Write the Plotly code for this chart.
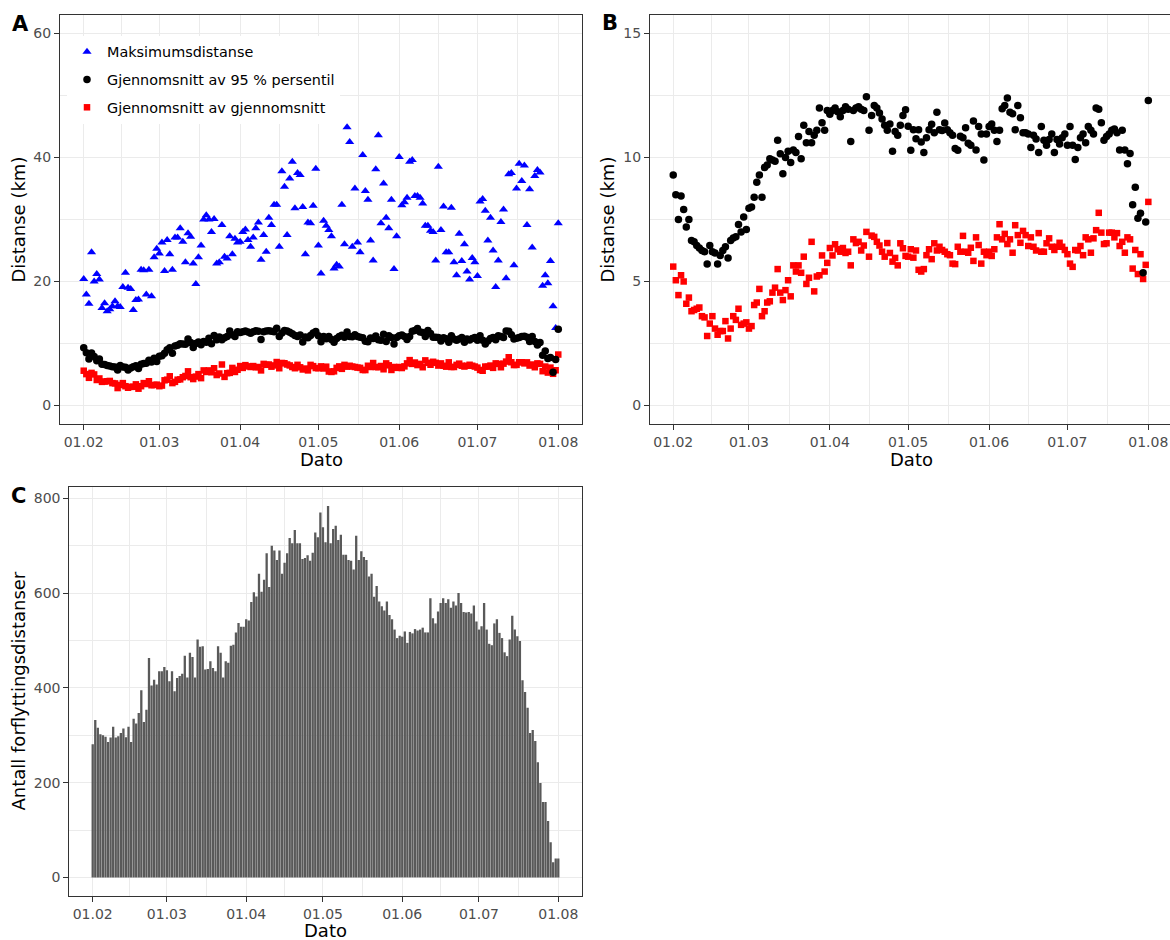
import pandas as pd
import plotly.graph_objects as go

# Daily values, 1 Feb 2020 - 1 Aug 2020
dates = pd.date_range("2020-02-01", "2020-08-01", freq="D")

maks_distanse = [
    20.4, 17.9, 16.4, 24.7, 20.0, 21.2, 20.3, 15.7, 16.5, 15.2,
    15.5, 16.0, 16.8, 16.0, 15.9, 19.1, 21.4, 19.0, 18.8, 15.4,
    17.0, 17.1, 21.9, 21.8, 17.9, 21.9, 17.6, 23.9, 25.3, 24.5,
    26.3, 21.7, 26.7, 24.4, 21.9, 27.1, 27.1, 28.6, 26.4, 23.1,
    27.8, 27.2, 22.9, 19.6, 23.9, 25.8, 30.0, 30.7, 30.0, 28.0,
    30.1, 22.9, 23.1, 29.1, 24.0, 23.7, 27.3, 24.4, 26.9, 26.3,
    26.4, 28.0, 28.4, 26.7, 25.6, 27.1, 28.6, 29.5, 23.5, 27.5,
    24.8, 30.3, 29.1, 32.4, 32.4, 25.6, 37.8, 35.3, 27.5, 36.6,
    39.3, 31.8, 37.5, 37.2, 32.0, 24.4, 29.5, 29.4, 32.2, 38.2,
    25.8, 21.3, 29.8, 29.0, 28.3, 27.3, 22.1, 22.7, 22.4, 32.4,
    26.0, 44.9, 42.5, 25.6, 35.0, 26.3, 24.7, 40.4, 34.6, 33.2,
    26.6, 23.4, 38.1, 43.6, 29.4, 35.8, 30.3, 28.6, 33.2, 22.0,
    27.3, 40.1, 32.3, 32.8, 33.5, 39.3, 39.6, 33.8, 33.8, 33.5,
    32.6, 29.0, 29.0, 28.2, 28.0, 23.4, 38.5, 28.3, 32.1, 24.7,
    24.7, 31.9, 23.1, 21.0, 27.7, 23.3, 26.0, 21.6, 20.3, 23.8,
    23.1, 20.9, 32.9, 33.3, 31.4, 26.6, 30.3, 25.0, 19.1, 23.4,
    29.6, 31.6, 20.5, 37.3, 37.5, 22.6, 35.0, 39.0, 36.2, 38.7,
    29.1, 34.9, 25.5, 37.0, 38.0, 37.6, 19.3, 21.0, 19.7, 23.3,
    16.0, 12.5, 29.4,
]

snitt_p95 = [
    9.3, 8.5, 7.5, 8.45, 7.9, 7.2, 7.5, 6.65, 6.6, 6.45,
    6.35, 6.25, 6.2, 5.7, 6.45, 6.2, 6.15, 5.7, 6.05, 6.25,
    6.4, 5.95, 6.65, 6.75, 6.8, 7.3, 7.0, 7.6, 7.1, 7.95,
    8.0, 8.4, 9.0, 9.3, 8.4, 9.6, 9.7, 9.95, 9.9, 9.85,
    10.7, 10.15, 9.35, 10.0, 10.25, 9.8, 10.3, 10.2, 10.85, 9.95,
    11.3, 10.6, 11.05, 10.6, 10.9, 11.1, 12.0, 11.4, 11.1, 11.9,
    11.75, 11.9, 12.0, 11.85, 11.65, 11.9, 12.05, 11.95, 10.65, 11.9,
    12.0, 12.05, 11.95, 11.9, 12.45, 11.1, 11.7, 12.1, 12.0, 11.8,
    11.55, 11.3, 11.1, 11.35, 10.25, 11.05, 10.9, 11.3, 11.7, 11.93,
    11.26, 10.29, 11.12, 10.76, 11.12, 10.63, 10.2, 10.8, 11.12, 11.34,
    11.0, 11.83, 11.12, 11.09, 11.39, 11.12, 11.0, 10.9, 10.36, 10.29,
    10.86, 10.8, 11.2, 10.58, 10.5, 11.47, 10.3, 11.25, 10.95, 9.9,
    10.95, 11.25, 11.35, 11.1, 10.65, 11.1, 11.97, 12.1, 12.4, 11.83,
    11.77, 11.12, 12.1, 11.6, 11.0, 11.0, 10.95, 10.4, 10.9, 10.75,
    10.2, 11.25, 10.7, 10.5, 10.73, 10.95, 10.2, 10.73, 10.55, 10.8,
    10.95, 10.5, 11.25, 10.5, 9.92, 10.4, 10.8, 10.95, 10.6, 11.25,
    11.1, 10.95, 12.0, 11.95, 11.4, 10.7, 10.85, 10.95, 11.1, 11.15,
    11.0, 10.3, 11.1, 10.3, 9.75, 10.16, 8.1, 8.8, 7.55, 7.75,
    5.35, 7.4, 12.3,
]

snitt_snitt = [
    5.6, 5.05, 4.45, 5.25, 5.0, 4.1, 4.35, 3.8, 3.85, 3.9,
    3.95, 3.6, 3.55, 2.8, 3.3, 3.6, 3.1, 2.85, 3.0, 3.0,
    3.4, 2.7, 3.1, 3.6, 3.45, 3.9, 3.25, 3.3, 3.35, 3.1,
    3.2, 4.05, 4.15, 4.7, 3.6, 3.8, 4.15, 4.2, 4.55, 4.75,
    5.5, 4.55, 4.25, 4.65, 5.05, 4.4, 5.65, 5.4, 5.65, 5.35,
    6.0, 4.9, 5.15, 6.6, 4.6, 5.2, 5.25, 6.05, 5.4, 5.75,
    6.35, 6.05, 6.5, 6.3, 6.2, 6.35, 6.15, 6.2, 5.65, 6.7,
    6.55, 6.6, 6.25, 6.45, 7.0, 6.0, 6.85, 6.8, 6.6, 6.45,
    6.2, 6.0, 6.55, 6.15, 5.8, 5.95, 5.65, 6.54, 6.34, 6.03,
    6.0, 6.3, 5.96, 6.25, 5.47, 5.4, 5.5, 6.06, 6.3, 5.9,
    6.54, 6.25, 6.4, 6.27, 6.2, 6.1, 6.06, 5.72, 5.7, 6.4,
    6.2, 6.84, 6.2, 6.16, 6.36, 5.83, 6.78, 6.47, 5.72, 6.2,
    6.06, 6.2, 6.03, 6.3, 6.78, 7.31, 6.7, 6.92, 6.51, 6.7,
    6.16, 7.27, 6.87, 6.56, 7.04, 6.87, 6.43, 6.78, 6.4, 6.25,
    6.95, 6.2, 6.2, 6.54, 6.74, 6.4, 6.27, 6.4, 6.56, 6.4,
    6.27, 6.1, 5.72, 5.59, 6.27, 6.25, 6.43, 6.06, 6.78, 6.7,
    6.16, 6.74, 7.07, 7.77, 6.97, 6.51, 6.54, 6.97, 6.97, 6.78,
    6.95, 6.43, 6.6, 6.16, 6.78, 6.7, 5.52, 6.27, 5.3, 6.1,
    5.1, 5.67, 8.21,
]

antall = [
    281, 332, 316, 302, 300, 297, 286, 295, 318, 295,
    298, 305, 314, 296, 318, 286, 335, 325, 347, 395,
    328, 354, 463, 405, 417, 407, 435, 435, 444, 437,
    414, 435, 393, 421, 425, 430, 468, 422, 474, 465,
    422, 502, 487, 488, 439, 440, 456, 442, 435, 488,
    474, 422, 456, 453, 489, 491, 517, 537, 529, 529,
    545, 542, 581, 602, 593, 641, 603, 628, 684, 613,
    700, 690, 670, 690, 641, 664, 684, 716, 705, 733,
    705, 705, 672, 674, 680, 668, 685, 728, 718, 770,
    739, 707, 784, 705, 735, 742, 712, 723, 681, 681,
    670, 668, 650, 721, 670, 688, 676, 670, 635, 641,
    592, 615, 582, 572, 563, 582, 554, 545, 523, 505,
    510, 508, 519, 495, 518, 515, 524, 521, 523, 527,
    517, 517, 589, 547, 536, 561, 579, 589, 579, 587,
    569, 582, 574, 600, 579, 560, 559, 560, 557, 574,
    540, 523, 530, 579, 523, 493, 490, 536, 545, 516,
    505, 475, 467, 502, 552, 523, 509, 499, 416, 391,
    358, 305, 311, 288, 243, 199, 159, 159, 119, 74,
    32, 40, 40,
]

navn_maks = "Maksimumsdistanse"
navn_p95 = "Gjennomsnitt av 95 % persentil"
navn_snitt = "Gjennomsnitt av gjennomsnitt"

FONT = "DejaVu Sans"
W, H = 1170, 940
GRID = "#EBEBEB"
FRAME = "#333333"

start, end = dates[0], dates[-1]
day = pd.Timedelta(days=1)
month_starts = pd.date_range("2020-02-01", "2020-08-01", freq="MS")
month_mids = [a + (b - a) / 2 for a, b in zip(month_starts[:-1], month_starts[1:])]


def px_x(p):
    return p / W


def px_y(p):
    return 1 - p / H


def x_axis(domain, rng, anchor):
    return dict(
        type="date", domain=domain, anchor=anchor,
        range=[str(rng[0]), str(rng[1])],
        tickmode="array", tickvals=list(month_starts), tickformat="%d.%m",
        showgrid=True, gridcolor=GRID, gridwidth=1.3,
        minor=dict(tickmode="array", tickvals=month_mids, showgrid=True,
                   gridcolor=GRID, gridwidth=0.7, ticks=""),
        ticks="outside", ticklen=5, tickwidth=1, tickcolor=FRAME,
        showline=True, mirror=True, linecolor=FRAME, linewidth=1,
        tickfont=dict(family=FONT, size=14, color="#4D4D4D"),
        zeroline=False, automargin=False,
    )


def y_axis(domain, rng, major, minor, anchor, mirror=True):
    return dict(
        domain=domain, anchor=anchor, range=rng,
        tickmode="array", tickvals=major,
        showgrid=True, gridcolor=GRID, gridwidth=1.3,
        minor=dict(tickmode="array", tickvals=minor, showgrid=True,
                   gridcolor=GRID, gridwidth=0.7, ticks=""),
        ticks="outside", ticklen=5, tickwidth=1, tickcolor=FRAME,
        showline=True, mirror=mirror, linecolor=FRAME, linewidth=1,
        tickfont=dict(family=FONT, size=14, color="#4D4D4D"),
        zeroline=False, automargin=False,
    )


fig = go.Figure()

# Panel A: all three series
fig.add_trace(go.Scatter(
    x=dates, y=maks_distanse, mode="markers", name=navn_maks,
    legendgroup="g1", legendrank=1,
    marker=dict(symbol="triangle-up", size=8, color="#0000FF"),
    xaxis="x", yaxis="y"))
fig.add_trace(go.Scatter(
    x=dates, y=snitt_snitt, mode="markers", name=navn_snitt,
    legendgroup="g3", legendrank=3,
    marker=dict(symbol="square", size=6.5, color="#FF0000"),
    xaxis="x", yaxis="y"))
fig.add_trace(go.Scatter(
    x=dates, y=snitt_p95, mode="markers", name=navn_p95,
    legendgroup="g2", legendrank=2,
    marker=dict(symbol="circle", size=7.5, color="#000000"),
    xaxis="x", yaxis="y"))

# Panel B: averages only
fig.add_trace(go.Scatter(
    x=dates, y=snitt_snitt, mode="markers", showlegend=False,
    marker=dict(symbol="square", size=6.5, color="#FF0000"),
    xaxis="x2", yaxis="y2"))
fig.add_trace(go.Scatter(
    x=dates, y=snitt_p95, mode="markers", showlegend=False,
    marker=dict(symbol="circle", size=7.5, color="#000000"),
    xaxis="x2", yaxis="y2"))

# Panel C: daily counts
fig.add_trace(go.Bar(
    x=dates, y=antall, showlegend=False,
    marker=dict(color="#595959", line=dict(width=0)),
    xaxis="x3", yaxis="y3"))

a_dom_x = [px_x(60), px_x(582)]
ab_dom_y = [px_y(424), px_y(15)]
b_dom_x = [px_x(650), 1.0]
c_dom_x = [px_x(69.3), px_x(581.7)]
c_dom_y = [px_y(896), px_y(487.3)]

fig.update_layout(
    width=W, height=H, template="none",
    paper_bgcolor="white", plot_bgcolor="white",
    margin=dict(l=0, r=0, t=0, b=0, autoexpand=False),
    font=dict(family=FONT, color="#000000"),
    bargap=0.1,
    xaxis=x_axis(a_dom_x, [start - 9.1 * day, end + 9.1 * day], "y"),
    yaxis=y_axis(ab_dom_y, [-3, 63], [0, 20, 40, 60], [10, 30, 50], "x"),
    xaxis2=x_axis(b_dom_x, [start - 8.9 * day, end + 8.3 * day], "y2"),
    yaxis2=y_axis(ab_dom_y, [-0.75, 15.75], [0, 5, 10, 15], [2.5, 7.5, 12.5], "x2"),
    xaxis3=x_axis(c_dom_x, [start - 9.15 * day, end + 9.15 * day], "y3"),
    yaxis3=y_axis(c_dom_y, [-39.2, 823.2], [0, 200, 400, 600, 800],
                  [100, 300, 500, 700], "x3"),
    legend=dict(
        x=px_x(67), y=px_y(36), xanchor="left", yanchor="top",
        bgcolor="white", borderwidth=0, traceorder="grouped",
        tracegroupgap=6, font=dict(family=FONT, size=14.4, color="#000000"),
    ),
)
fig.update_layout(xaxis2=dict(mirror=True), yaxis2=dict(mirror=False))

notes = [
    ("A", 20, 24, 0, 21, True),
    ("B", 609.5, 23, 0, 21, True),
    ("C", 18.7, 496, 0, 21, True),
    ("Distanse (km)", 18, 219.5, -90, 18, False),
    ("Distanse (km)", 607, 219.5, -90, 18, False),
    ("Antall forflyttingsdistanser", 18, 691.5, -90, 18, False),
    ("Dato", 321, 459, 0, 18, False),
    ("Dato", 911, 459, 0, 18, False),
    ("Dato", 325.5, 930, 0, 18, False),
]
for text, x, y, ang, size, bold in notes:
    fig.add_annotation(
        x=px_x(x), y=px_y(y), xref="paper", yref="paper",
        text=f"<b>{text}</b>" if bold else text, showarrow=False,
        xanchor="center", yanchor="middle", textangle=ang,
        font=dict(family=FONT, size=size, color="#000000"),
    )

fig.write_html("out.html")
